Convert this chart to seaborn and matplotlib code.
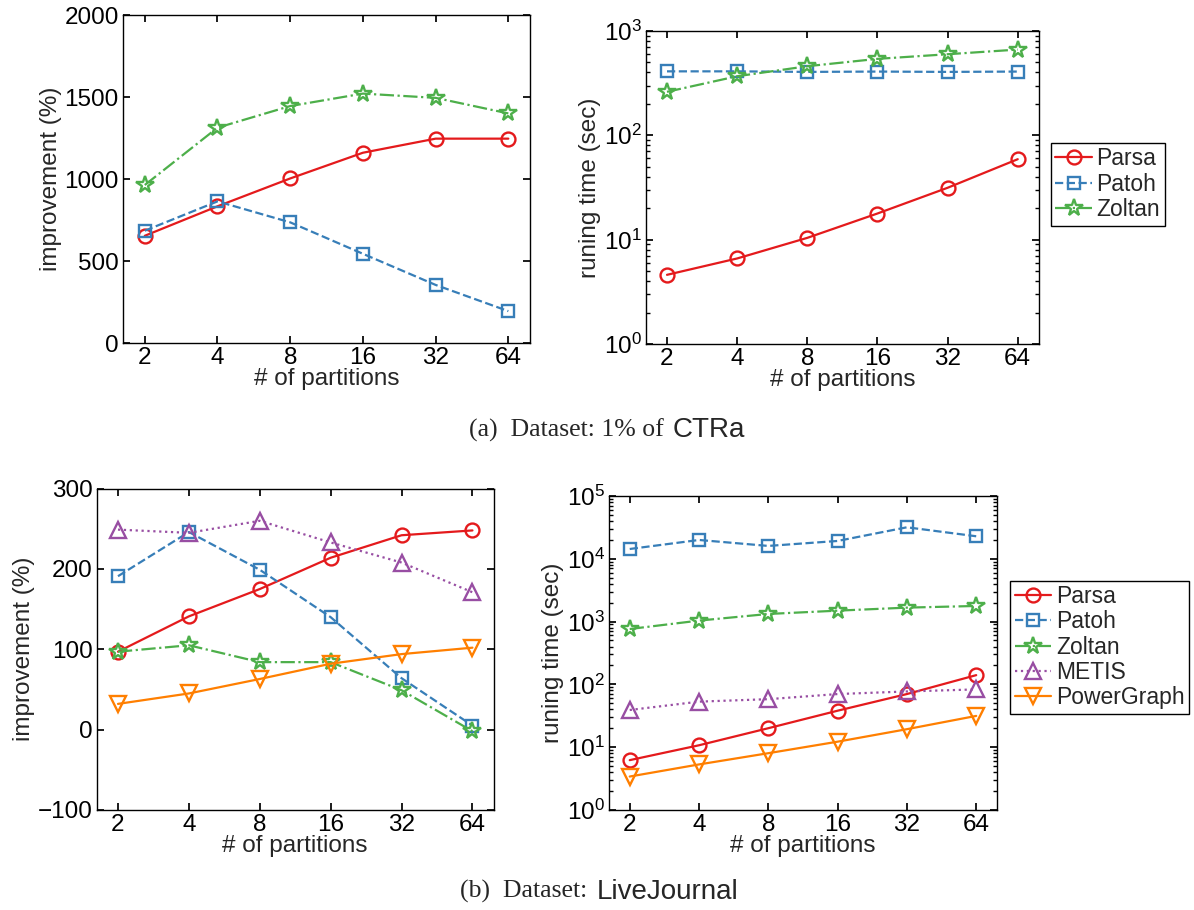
import numpy as np
import matplotlib
matplotlib.use("Agg")
import matplotlib.pyplot as plt
import seaborn as sns
from matplotlib.ticker import FixedLocator, NullLocator, FixedFormatter

sns.set_theme(style="ticks")
plt.rcParams["font.family"] = ["Liberation Sans", "DejaVu Sans"]
plt.rcParams["mathtext.fontset"] = "custom"
plt.rcParams["mathtext.rm"] = "Liberation Sans"
plt.rcParams["xtick.direction"] = "in"
plt.rcParams["ytick.direction"] = "in"
plt.rcParams["xtick.top"] = True
plt.rcParams["ytick.right"] = True
plt.rcParams["axes.edgecolor"] = "black"
plt.rcParams["axes.linewidth"] = 1.0
plt.rcParams["xtick.color"] = "black"
plt.rcParams["ytick.color"] = "black"

# ---- data ----
partitions = [2, 4, 8, 16, 32, 64]
tick_labels = ["2", "4", "8", "16", "32", "64"]

# (a) 1% of CTRa
ctra_impr_parsa = [655, 835, 1005, 1162, 1248, 1248]
ctra_impr_patoh = [686, 865, 737, 545, 355, 195]
ctra_impr_zoltan = [965, 1315, 1447, 1523, 1497, 1402]

ctra_time_parsa = [4.6, 6.6, 10.4, 17.8, 31.4, 59]
ctra_time_patoh = [410, 410, 405, 408, 405, 408]
ctra_time_zoltan = [261, 368, 459, 540, 598, 663]

# (b) LiveJournal
lj_impr_parsa = [97, 141, 175, 214, 242, 248]
lj_impr_patoh = [191, 246, 199, 140, 64, 5]
lj_impr_zoltan = [97, 105, 84, 84, 49, -2]
lj_impr_metis = [249, 245, 260, 233, 208, 171]
lj_impr_powergraph = [32, 45, 63, 82, 94, 102]

lj_time_parsa = [6.2, 10.7, 20, 38, 70, 140]
lj_time_patoh = [14300, 19900, 16000, 19200, 31700, 22800]
lj_time_zoltan = [760, 1035, 1320, 1490, 1665, 1770]
lj_time_metis = [39, 53, 58, 70, 77, 83]
lj_time_powergraph = [3.4, 5.3, 8.0, 12.2, 19.3, 31.4]

pal = sns.color_palette("Set1")
RED, BLUE, GREEN, PURPLE, ORANGE = pal[0], pal[1], pal[2], pal[3], pal[4]

styles = {
    "Parsa": dict(color=RED, marker="o", linestyle="-", markersize=10),
    "Patoh": dict(color=BLUE, marker="s", linestyle="--", markersize=8.5),
    "Zoltan": dict(color=GREEN, marker="*", linestyle="-.", markersize=13),
    "METIS": dict(color=PURPLE, marker="^", linestyle=":", markersize=12),
    "PowerGraph": dict(color=ORANGE, marker="v", linestyle="-", markersize=12),
}

FS = 17.5


def draw(ax, name, values):
    st = styles[name]
    sns.lineplot(x=partitions, y=values, ax=ax, label=name,
                 color=st["color"], marker=st["marker"],
                 linestyle=st["linestyle"], linewidth=1.6,
                 markersize=st["markersize"], markerfacecolor="none",
                 markeredgecolor=st["color"], markeredgewidth=1.7,
                 legend=False)


def setup_x(ax):
    ax.set_xscale("log", base=2)
    ax.set_xlim(2 / 2 ** 0.3, 64 * 2 ** 0.3)
    ax.xaxis.set_major_locator(FixedLocator(partitions))
    ax.xaxis.set_major_formatter(FixedFormatter(tick_labels))
    ax.xaxis.set_minor_locator(NullLocator())
    ax.set_xlabel("# of partitions", fontsize=FS, labelpad=-1)
    ax.tick_params(labelsize=FS, length=5, pad=3)
    ax.tick_params(which="minor", length=3)


def add_legend(ax, x, y):
    h, l = ax.get_legend_handles_labels()
    fig.legend(h, l, loc="upper left", bbox_to_anchor=(x, y),
               fontsize=16.5, frameon=True, fancybox=False,
               edgecolor="black", framealpha=1, numpoints=1,
               handlelength=1.6, handletextpad=0.2, borderpad=0.2,
               labelspacing=0.1, borderaxespad=0)


fig = plt.figure(figsize=(11.94, 9.10), dpi=100)

ax1 = fig.add_axes([0.103, 0.623, 0.341, 0.360])
ax2 = fig.add_axes([0.541, 0.622, 0.329, 0.344])
ax3 = fig.add_axes([0.081, 0.110, 0.3325, 0.353])
ax4 = fig.add_axes([0.510, 0.110, 0.325, 0.345])

# top-left
draw(ax1, "Parsa", ctra_impr_parsa)
draw(ax1, "Patoh", ctra_impr_patoh)
draw(ax1, "Zoltan", ctra_impr_zoltan)
setup_x(ax1)
ax1.set_ylim(0, 2000)
ax1.set_yticks([0, 500, 1000, 1500, 2000])
ax1.set_ylabel("improvement (%)", fontsize=FS, labelpad=2)

# top-right
draw(ax2, "Parsa", ctra_time_parsa)
draw(ax2, "Patoh", ctra_time_patoh)
draw(ax2, "Zoltan", ctra_time_zoltan)
setup_x(ax2)
ax2.set_yscale("log")
ax2.set_ylim(1, 1000)
ax2.set_ylabel("runing time (sec)", fontsize=FS, labelpad=2)
add_legend(ax2, 0.880, 0.843)

# bottom-left
draw(ax3, "Parsa", lj_impr_parsa)
draw(ax3, "Patoh", lj_impr_patoh)
draw(ax3, "Zoltan", lj_impr_zoltan)
draw(ax3, "METIS", lj_impr_metis)
draw(ax3, "PowerGraph", lj_impr_powergraph)
setup_x(ax3)
ax3.set_ylim(-100, 300)
ax3.set_yticks([-100, 0, 100, 200, 300])
ax3.set_ylabel("improvement (%)", fontsize=FS, labelpad=2)

# bottom-right
draw(ax4, "Parsa", lj_time_parsa)
draw(ax4, "Patoh", lj_time_patoh)
draw(ax4, "Zoltan", lj_time_zoltan)
draw(ax4, "METIS", lj_time_metis)
draw(ax4, "PowerGraph", lj_time_powergraph)
setup_x(ax4)
ax4.set_yscale("log")
ax4.set_ylim(1, 1e5)
ax4.set_ylabel("runing time (sec)", fontsize=FS, labelpad=2)
add_legend(ax4, 0.846, 0.362)

# captions
serif = ["Liberation Serif", "DejaVu Serif"]
fig.text(0.561, 0.527, "(a)  Dataset: 1% of ", ha="right", va="center",
         fontsize=18.5, family=serif)
fig.text(0.563, 0.527, "CTRa", ha="left", va="center", fontsize=20)
fig.text(0.497, 0.020, "(b)  Dataset: ", ha="right", va="center",
         fontsize=18.5, family=serif)
fig.text(0.500, 0.020, "LiveJournal", ha="left", va="center", fontsize=20)

fig.savefig("out.png", dpi=100)
